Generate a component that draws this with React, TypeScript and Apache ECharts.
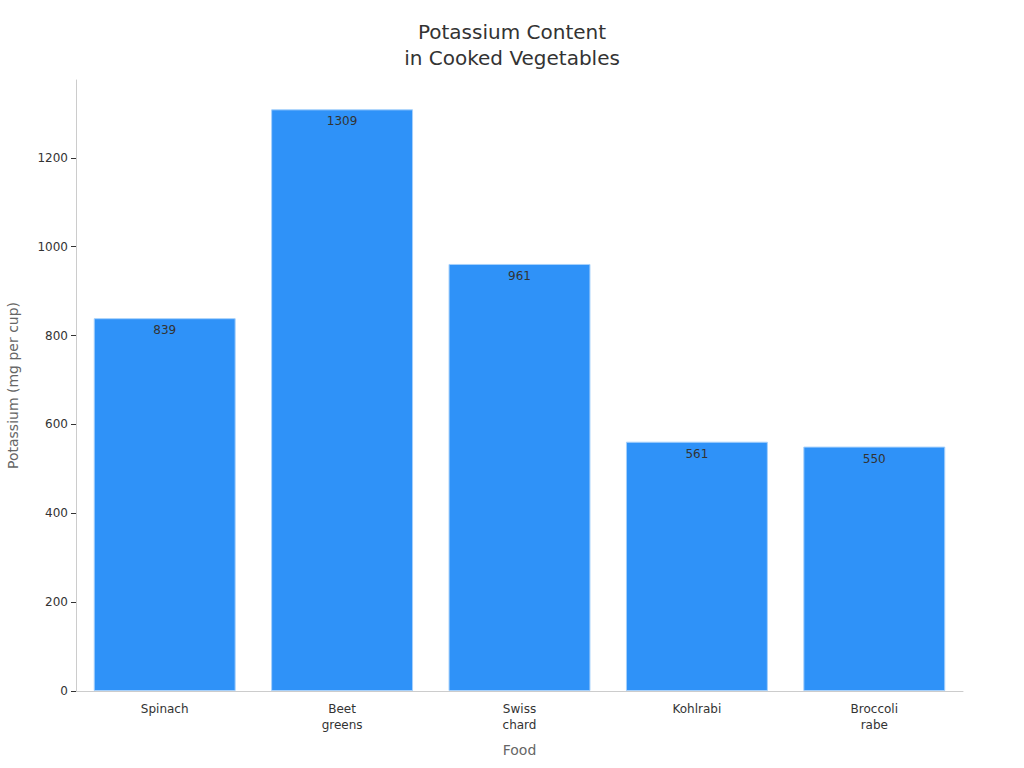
import React, { useEffect, useRef } from 'react';
import * as echarts from 'echarts';

const foods = ['Spinach', 'Beet\ngreens', 'Swiss\nchard', 'Kohlrabi', 'Broccoli\nrabe'];
const potassium = [839, 1309, 961, 561, 550];
const yTicks = [0, 200, 400, 600, 800, 1000, 1200];

const FONT = '"DejaVu Sans", sans-serif';

const App: React.FC = () => {
  const chartRef = useRef<HTMLDivElement>(null);

  useEffect(() => {
    if (!chartRef.current) return;
    const chart = echarts.init(chartRef.current, undefined, { renderer: 'svg' });

    const option = {
      animation: false,
      backgroundColor: '#ffffff',
      textStyle: { fontFamily: FONT },
      title: {
        text: 'Potassium Content\nin Cooked Vegetables',
        left: 'center',
        top: 14,
        textStyle: {
          fontFamily: FONT,
          fontSize: 20,
          fontWeight: 'normal',
          color: '#333333',
          lineHeight: 26
        }
      },
      grid: {
        left: 76,
        right: 61,
        top: 80,
        bottom: 77,
        containLabel: false,
        outerBoundsMode: 'none'
      },
      xAxis: {
        type: 'category',
        data: foods,
        name: 'Food',
        nameLocation: 'middle',
        nameGap: 52,
        nameTextStyle: { fontFamily: FONT, fontSize: 14, color: '#666666' },
        axisLine: { lineStyle: { color: '#cccccc' } },
        axisTick: { alignWithLabel: true, length: 5, lineStyle: { color: '#333333' } },
        axisLabel: { fontFamily: FONT, fontSize: 12, color: '#333333', margin: 10, lineHeight: 16 }
      },
      yAxis: {
        type: 'value',
        min: 0,
        max: 1375,
        name: 'Potassium (mg per cup)',
        nameLocation: 'middle',
        nameGap: 56,
        nameTextStyle: { fontFamily: FONT, fontSize: 14, color: '#666666' },
        splitLine: { show: false },
        axisLine: { show: true, lineStyle: { color: '#cccccc' } },
        axisTick: {
          show: true,
          length: 5,
          lineStyle: { color: '#333333' },
          customValues: yTicks
        },
        axisLabel: {
          fontFamily: FONT,
          fontSize: 12,
          color: '#333333',
          margin: 8,
          customValues: yTicks,
          formatter: (v: number) => String(v)
        }
      },
      series: [
        {
          type: 'bar',
          data: potassium,
          barCategoryGap: '20%',
          itemStyle: {
            color: '#2f92f8',
            borderColor: '#a6d0fb',
            borderWidth: 1
          },
          label: {
            show: true,
            position: 'insideTop',
            distance: 6,
            fontFamily: FONT,
            fontSize: 12,
            color: '#333333'
          }
        }
      ]
    };

    // eslint-disable-next-line @typescript-eslint/no-explicit-any
    chart.setOption(option as any);

    return () => {
      chart.dispose();
    };
  }, []);

  return (
    <div
      ref={chartRef}
      style={{ width: 1024, height: 768, position: 'absolute', left: 0, top: 0 }}
    />
  );
};

export default App;
